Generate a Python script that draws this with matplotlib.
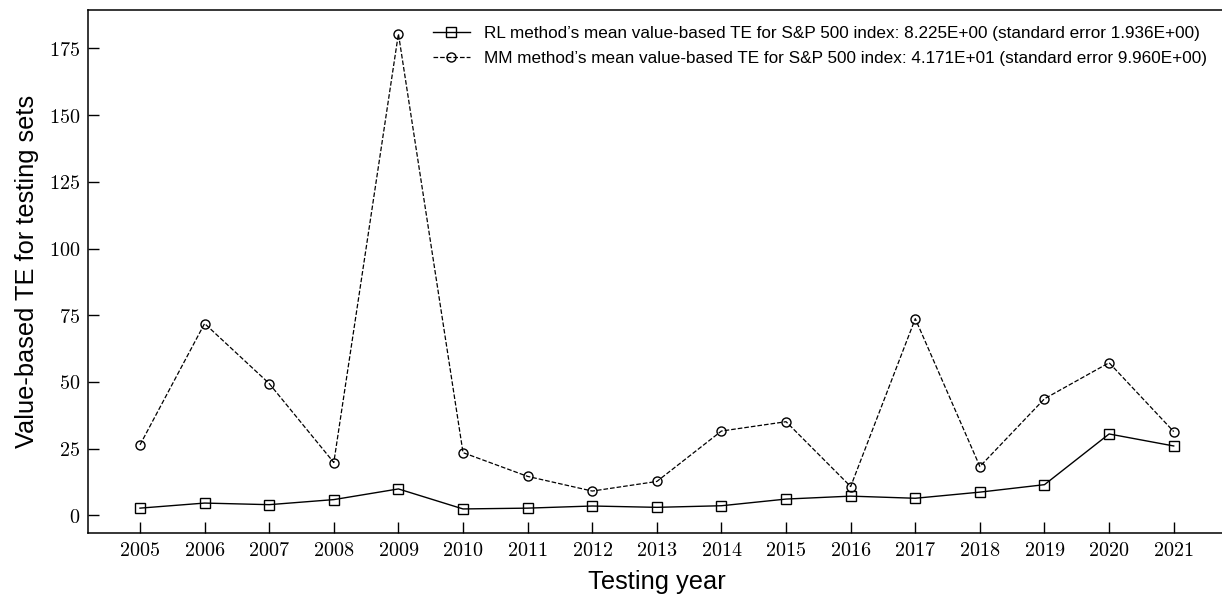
import matplotlib

matplotlib.use("Agg")
import matplotlib.pyplot as plt
from matplotlib.ticker import FuncFormatter

years = list(range(2005, 2022))
rl_te = [2.7, 4.6, 4.0, 5.9, 9.9, 2.4, 2.7, 3.5, 3.0, 3.6,
         6.1, 7.2, 6.4, 8.7, 11.5, 30.5, 26.0]
mm_te = [26.4, 71.9, 49.4, 19.8, 180.5, 23.5, 14.6, 9.1, 12.7, 31.6,
         35.1, 10.8, 73.7, 18.3, 43.7, 57.2, 31.4]
rl_label = ("RL method’s mean value-based TE for S&P 500 index: "
            "8.225E+00 (standard error 1.936E+00)")
mm_label = ("MM method’s mean value-based TE for S&P 500 index: "
            "4.171E+01 (standard error 9.960E+00)")
y_ticks = [0, 25, 50, 75, 100, 125, 150, 175]

plt.rcParams["font.family"] = ["Liberation Sans", "DejaVu Sans"]
plt.rcParams["mathtext.fontset"] = "cm"

W, H = 1222, 598
fig = plt.figure(figsize=(W / 100, H / 100), dpi=100)
left, right, top, bottom = 88.3, 1225.4, 10.0, 532.7
ax = fig.add_axes([left / W, 1 - bottom / H, (right - left) / W, (bottom - top) / H])

ax.plot(years, rl_te, "k-", lw=1.0, marker="s", ms=6.5, mfc="none",
        mec="black", mew=1.0, label=rl_label)
ax.plot(years, mm_te, "k--", lw=0.9, marker="o", ms=6.5, mfc="none",
        mec="black", mew=1.0, label=mm_label)

ax.set_xticks(years, labels=[f"${y}$" for y in years])
ax.set_yticks(y_ticks)
ax.yaxis.set_major_formatter(FuncFormatter(lambda v, _: f"${int(v)}$"))
ax.tick_params(direction="in", length=8, width=1, labelsize=14.5, pad=6)
ax.spines["right"].set_visible(False)
for s in ("left", "bottom", "top"):
    ax.spines[s].set_linewidth(1.1)

ax.set_xlabel("Testing year", fontsize=18.3, labelpad=7)
ax.set_ylabel("Value-based TE for testing sets", fontsize=18.3, labelpad=7)

ax.legend(loc="upper left", bbox_to_anchor=(433 / W, 1 - 26 / H),
          bbox_transform=fig.transFigure, frameon=False, borderpad=0,
          borderaxespad=0, fontsize=12.35, handlelength=2.15,
          handletextpad=0.8, labelspacing=0.6)

fig.savefig("out.png", dpi=100)
